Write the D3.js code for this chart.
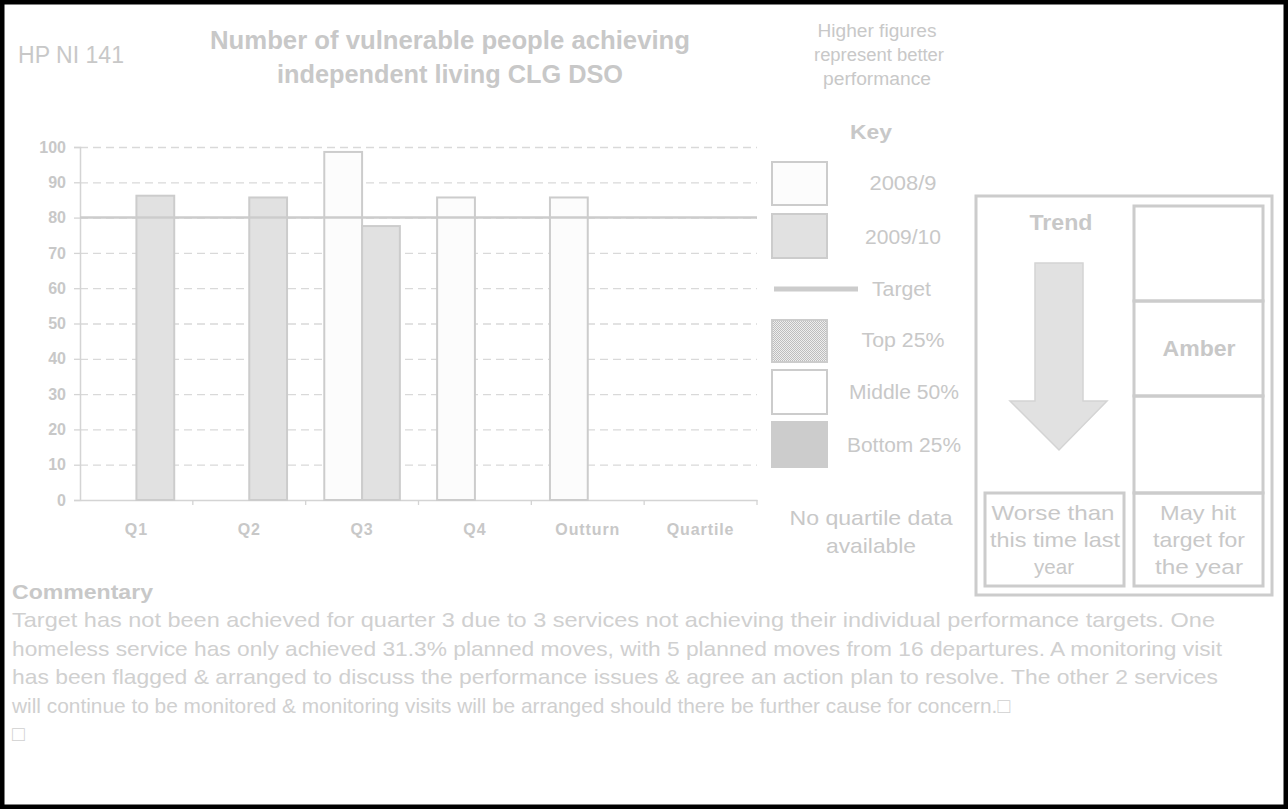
<!DOCTYPE html>
<html>
<head>
<meta charset="utf-8">
<script src="https://cdn.jsdelivr.net/npm/d3@7"></script>
<style>
  body { margin: 0; background: #fff; }
  text { font-family: "Liberation Sans", Arial, sans-serif; }
</style>
</head>
<body>
<script>
const w = 1288;
const h = 809;

// data
const categories = ["Q1", "Q2", "Q3", "Q4", "Outturn", "Quartile"];
const seriesNames = ["2008/9", "2009/10"];
const values0809 = [null, null, 98.6, 85.7, 85.7, null];
const values0910 = [86.2, 85.7, 77.6, null, null, null];
const targetValue = 80;
const yTicks = [0, 10, 20, 30, 40, 50, 60, 70, 80, 90, 100];
const keyLabels = ["2008/9", "2009/10", "Target", "Top 25%", "Middle 50%", "Bottom 25%"];
const commentary = [
  "Target has not been achieved for quarter 3 due to 3 services not achieving their individual performance targets.  One",
  "homeless service has only achieved 31.3% planned moves, with 5 planned moves from 16 departures. A monitoring visit",
  "has been flagged & arranged to discuss the performance issues & agree an action plan to resolve.  The other 2 services",
  "will continue to be monitored & monitoring visits will be arranged should there be further cause for concern.\u25A1",
  "\u25A1"
];

const grey = "#cccccc";
const txt = "#c8c8c8";

const svg = d3.select("body").append("svg").attr("width", w).attr("height", h);

// helper for fixed-width labels
function label(x, y, t, size, width, anchor, bold) {
  const el = svg.append("text").attr("x", x).attr("y", y)
    .attr("text-anchor", anchor || "middle")
    .attr("font-size", size).attr("fill", txt).text(t);
  if (bold) el.attr("font-weight", "bold");
  if (width) el.attr("textLength", width).attr("lengthAdjust", "spacingAndGlyphs");
  return el;
}

// outer frame
svg.append("rect")
  .attr("x", 2).attr("y", 2)
  .attr("width", w - 4).attr("height", h - 4)
  .attr("fill", "#fff").attr("stroke", "#000").attr("stroke-width", 5);

// header
label(18, 63, "HP NI 141", 23, 106, "start");
label(450, 49, "Number of vulnerable people achieving", 25, 480, "middle", true);
label(450, 83, "independent living CLG DSO", 25, 346, "middle", true);

label(877, 37, "Higher figures", 18, 119);
label(879, 61, "represent better", 18, 130);
label(877, 85, "performance", 18, 108);

// scales
const plotLeft = 80, plotRight = 757, plotTop = 147, plotBottom = 500;

const x = d3.scaleBand().domain(categories).range([plotLeft, plotRight])
  .paddingInner(0.33).paddingOuter(0.165);
const x1 = d3.scaleBand().domain(seriesNames).range([0, x.bandwidth()]);
const y = d3.scaleLinear().domain([0, 100]).range([plotBottom, plotTop]);

// gridlines
svg.append("g")
  .attr("transform", "translate(" + plotLeft + ",0)")
  .call(d3.axisLeft(y).tickValues(yTicks.slice(1)).tickSize(-(plotRight - plotLeft)).tickFormat(""))
  .call((g) => g.select(".domain").remove())
  .selectAll("line")
  .attr("stroke", "#d9d9d9").attr("stroke-width", 1.3).attr("stroke-dasharray", "8,5");

// y axis
const yAxis = svg.append("g")
  .attr("transform", "translate(" + plotLeft + ",0)")
  .call(d3.axisLeft(y).tickValues(yTicks).tickSize(6).tickPadding(8));
yAxis.select(".domain").attr("stroke", "#d4d4d4").attr("stroke-width", 1.5);
yAxis.selectAll("line").attr("stroke", "#d4d4d4").attr("stroke-width", 1.3);
yAxis.selectAll("text").attr("font-size", 16).attr("font-weight", "bold")
  .attr("fill", txt).attr("font-family", "Liberation Sans, Arial, sans-serif");

// x axis
const xAxis = svg.append("g")
  .attr("transform", "translate(0," + plotBottom + ")")
  .call(d3.axisBottom(x).tickSize(0).tickPadding(24));
xAxis.select(".domain").attr("stroke", "#d4d4d4").attr("stroke-width", 1.5);
xAxis.selectAll("text").attr("font-size", 16).attr("font-weight", "bold")
  .attr("letter-spacing", 0.9).attr("fill", txt)
  .attr("font-family", "Liberation Sans, Arial, sans-serif");

const half = x.step() * x.paddingInner() / 2;
const bounds = categories.map((c) => x(c) - half).concat([plotRight]);
svg.append("g").selectAll("line").data(bounds.slice(1)).enter().append("line")
  .attr("x1", (d) => d).attr("x2", (d) => d)
  .attr("y1", plotBottom).attr("y2", plotBottom + 5)
  .attr("stroke", "#d4d4d4").attr("stroke-width", 1.3);

// bars
const barData = [];
categories.forEach((c, i) => {
  if (values0809[i] != null) barData.push({ cat: c, series: "2008/9", value: values0809[i] });
  if (values0910[i] != null) barData.push({ cat: c, series: "2009/10", value: values0910[i] });
});

svg.append("g").selectAll("rect").data(barData).enter().append("rect")
  .attr("x", (d) => x(d.cat) + x1(d.series))
  .attr("y", (d) => y(d.value))
  .attr("width", x1.bandwidth())
  .attr("height", (d) => plotBottom - y(d.value))
  .attr("fill", (d) => (d.series === "2008/9" ? "#fcfcfc" : "#e1e1e1"))
  .attr("stroke", grey).attr("stroke-width", 2);

// target
svg.append("line")
  .attr("x1", plotLeft).attr("x2", plotRight)
  .attr("y1", y(targetValue)).attr("y2", y(targetValue))
  .attr("stroke", grey).attr("stroke-width", 2.5);

// key
label(871, 139, "Key", 20, 42, "middle", true);

const defs = svg.append("defs");
const pat = defs.append("pattern").attr("id", "dots")
  .attr("width", 2).attr("height", 2).attr("patternUnits", "userSpaceOnUse");
pat.append("rect").attr("width", 2).attr("height", 2).attr("fill", "#eeeeee");
pat.append("rect").attr("width", 1).attr("height", 1).attr("fill", "#bdbdbd");
pat.append("rect").attr("x", 1).attr("y", 1).attr("width", 1).attr("height", 1).attr("fill", "#bdbdbd");

const keyBoxes = [
  { y: 162, h: 43, fill: "#fcfcfc", label: keyLabels[0], ly: 190, lx: 903, lw: 67 },
  { y: 214, h: 44, fill: "#e1e1e1", label: keyLabels[1], ly: 244, lx: 903, lw: 76 },
  { y: 320, h: 42, fill: "url(#dots)", label: keyLabels[3], ly: 347, lx: 903, lw: 83 },
  { y: 370, h: 44, fill: "#ffffff", label: keyLabels[4], ly: 399, lx: 904, lw: 110 },
  { y: 422, h: 45, fill: grey, label: keyLabels[5], ly: 452, lx: 904, lw: 114 }
];
svg.append("g").selectAll("rect").data(keyBoxes).enter().append("rect")
  .attr("x", 772).attr("y", (d) => d.y).attr("width", 55).attr("height", (d) => d.h)
  .attr("fill", (d) => d.fill).attr("stroke", grey).attr("stroke-width", 2);
keyBoxes.forEach((d) => label(d.lx, d.ly, d.label, 20, d.lw));

svg.append("line").attr("x1", 774).attr("x2", 858).attr("y1", 289).attr("y2", 289)
  .attr("stroke", grey).attr("stroke-width", 5);
label(872, 296, keyLabels[2], 20, 59, "start");

label(871, 525, "No quartile data", 21, 163);
label(871, 553, "available", 21, 90);

// trend / status panel
const panel = svg.append("g");
panel.append("rect").attr("x", 976).attr("y", 196).attr("width", 296).attr("height", 399)
  .attr("fill", "none").attr("stroke", grey).attr("stroke-width", 3);
[[1134, 206, 129, 95], [1134, 301, 129, 95], [1134, 396, 129, 97], [1134, 493, 129, 93], [985, 493, 139, 93]]
  .forEach((r) => {
    panel.append("rect").attr("x", r[0]).attr("y", r[1]).attr("width", r[2]).attr("height", r[3])
      .attr("fill", "none").attr("stroke", grey).attr("stroke-width", 3);
  });

label(1061, 230, "Trend", 22, 63, "middle", true);
panel.append("path")
  .attr("d", "M1035,263 L1083,263 L1083,401 L1107,401 L1059,450 L1010,401 L1035,401 Z")
  .attr("fill", "#e1e1e1").attr("stroke", "#d4d4d4").attr("stroke-width", 1.5);
label(1199, 356, "Amber", 22, 73, "middle", true);

label(1053, 520, "Worse than", 21, 123);
label(1055, 547, "this time last", 21, 130);
label(1054, 574, "year", 21, 40);
label(1198, 520, "May hit", 21, 76);
label(1199, 547, "target for", 21, 92);
label(1199, 574, "the year", 21, 88);

// commentary
label(12, 599, "Commentary", 21, 141, "start", true);
const lineWidths = [1203, 1210, 1206, 998, null];
svg.append("g").selectAll("text").data(commentary).enter().append("text")
  .attr("x", 12).attr("y", (d, i) => 627 + i * 28.5)
  .attr("font-size", 21).attr("fill", "#d0d0d0")
  .each(function (d, i) {
    if (lineWidths[i]) d3.select(this).attr("textLength", lineWidths[i]).attr("lengthAdjust", "spacingAndGlyphs");
  })
  .text((d) => d);
</script>
</body>
</html>
